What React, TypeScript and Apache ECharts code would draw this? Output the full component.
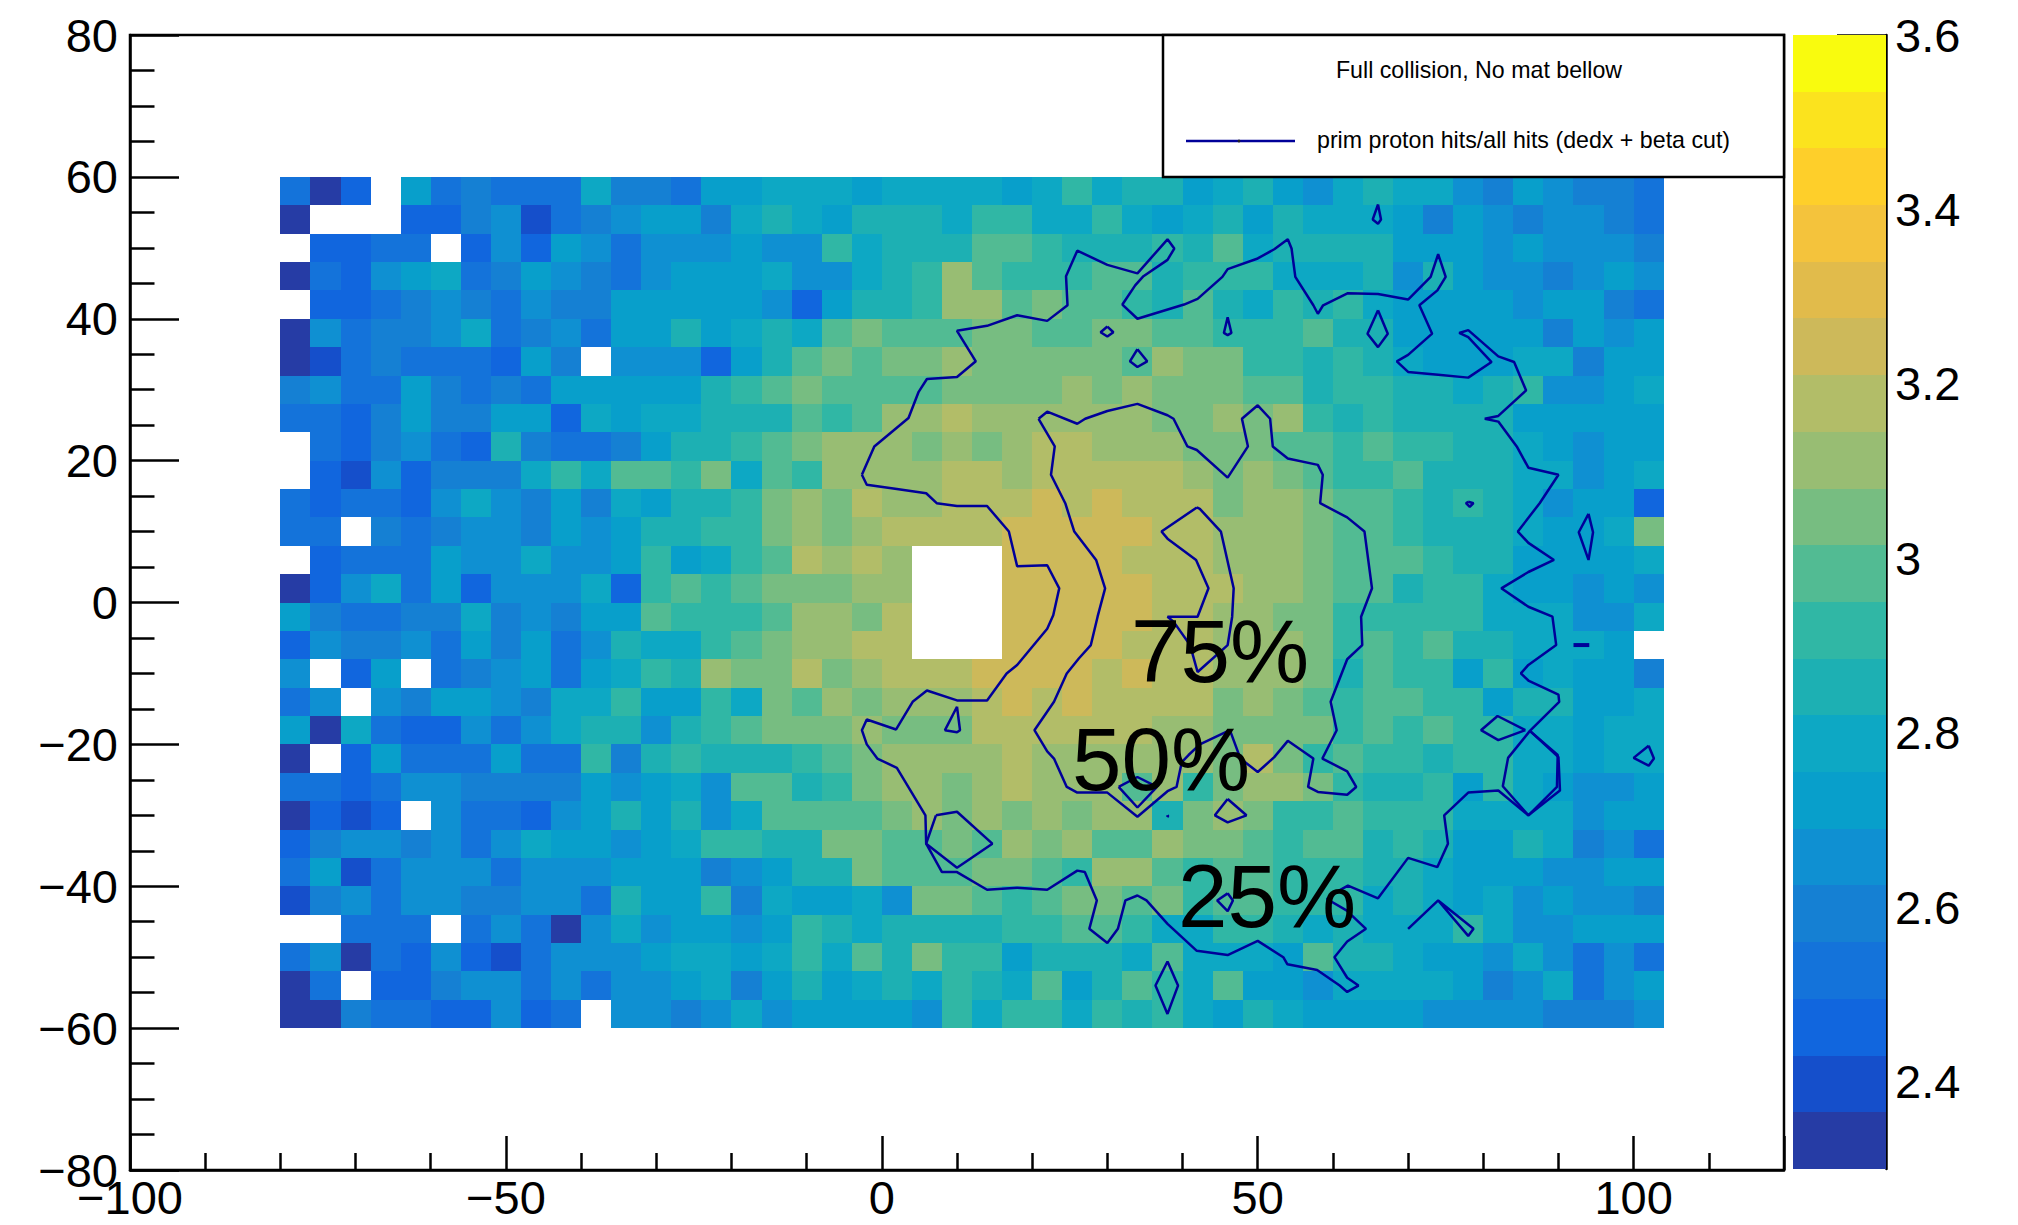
import React, { useEffect, useRef } from "react";
import * as echarts from "echarts";

const FONT = "Liberation Sans";
const Z_MIN = 2.3;
const Z_MAX = 3.6;
const BAND_COUNT = 20;
const Z_STEP = (Z_MAX - Z_MIN) / BAND_COUNT;
const BIN = 4;
const X_START = -80;
const Y_TOP = 60;
const CONTOUR_COLOR = "#000099";

const palette = ["#263CA5", "#154FCB", "#1166DE", "#1473DA", "#1580D3", "#0F90D2", "#089FCB", "#0DA8C4", "#1DB0B3", "#30B7A5", "#52BB93", "#77BD81", "#98BD73", "#B2BD68", "#CDB95A", "#E1BB4B", "#F4C33C", "#FECF2A", "#FBE31E", "#F9FB0E"];

const colorbarTicks = [2.4, 2.6, 2.8, 3, 3.2, 3.4, 3.6];

// colour level of each cell, top row first; -1 is an empty bin
const levelRows: number[][] = [
  [3,0,2,-1,6,3,4,3,3,3,7,4,4,3,6,6,7, 7,7,6,7,7,7,7,6,7,9,7,8,8, 6,7,8,6,5,7,8,7,7,5,4,6,5,4,4,3],
  [0,-1,-1,-1,2,2,4,5,1,3,4,5,6,6,4,7,8, 7,6,8,8,8,7,9,9,7,7,9,7,6, 7,8,6,8,7,7,7,6,4,6,5,4,5,5,4,3],
  [-1,2,2,3,3,-1,2,5,2,6,5,3,5,5,5,6,5, 5,9,7,8,8,8,10,10,9,8,8,8,9, 8,10,7,8,8,8,8,6,6,6,5,6,5,5,5,4],
  [0,3,2,5,6,7,3,4,6,5,4,3,5,6,6,6,7, 5,5,7,8,9,12,10,9,9,9,10,10,8, 9,9,9,7,7,7,8,5,8,6,5,5,4,5,6,5],
  [-1,2,2,3,4,5,4,3,5,4,4,6,6,6,6,6,5, 2,6,8,8,9,12,12,10,11,10,10,9,8, 10,8,7,9,8,9,7,6,6,6,6,5,6,6,4,3],
  [0,5,3,4,4,5,7,3,4,5,3,6,6,8,6,7,8, 7,10,11,10,10,10,11,11,10,10,11,11,10, 10,9,9,9,10,8,8,6,6,6,6,6,4,6,5,6],
  [0,1,3,4,3,3,3,2,6,4,-1,5,5,5,2,6,8, 10,11,10,11,11,12,11,11,11,11,11,10,12, 11,11,9,9,8,9,8,7,6,6,6,7,7,4,6,6],
  [4,5,3,3,6,4,3,4,3,6,6,6,6,6,8,9,10, 11,10,10,10,10,11,11,11,11,12,11,12,11, 11,11,10,10,8,9,9,8,8,7,8,9,5,5,6,7],
  [3,3,2,4,6,4,4,6,6,2,7,6,7,7,8,8,8, 10,9,10,12,12,13,12,12,12,12,12,12,11, 11,12,11,12,9,8,9,8,8,8,8,6,6,6,6,6],
  [-1,3,2,4,5,3,2,8,4,3,3,4,6,8,8,9,10, 11,12,12,12,11,12,11,12,13,13,12,12,12, 11,11,11,10,10,9,10,9,9,8,8,7,6,5,6,6],
  [-1,2,1,5,2,4,4,4,7,9,7,10,10,9,11,7,10, 9,12,12,12,12,13,13,12,13,13,13,13,13, 12,11,12,11,10,9,9,10,8,8,8,7,7,5,6,7],
  [3,2,3,3,2,5,7,5,4,6,4,7,6,8,8,9,11, 12,11,13,12,12,13,13,13,14,13,14,13,13, 13,11,12,12,11,10,10,9,8,9,8,7,5,6,6,2],
  [3,3,-1,4,3,4,5,5,4,6,5,6,8,8,9,9,11, 12,11,12,13,13,13,13,14,14,14,14,14,13, 13,12,12,12,11,10,10,9,8,8,8,7,6,6,7,11],
  [-1,2,3,3,3,6,5,5,7,5,5,6,9,6,7,9,10, 13,12,13,12,-1,-1,-1,14,14,14,14,13,13, 13,12,12,12,11,10,10,10,9,8,8,6,6,6,6,7],
  [0,2,5,7,3,6,2,5,5,5,7,2,9,10,9,10,11, 11,11,12,12,-1,-1,-1,14,14,14,14,14,13, 13,13,12,12,11,10,10,8,9,9,7,6,6,5,6,5],
  [6,4,3,3,4,4,7,4,5,4,6,6,10,9,9,9,10, 12,12,11,13,-1,-1,-1,14,14,14,14,14,13, 13,12,12,11,11,9,9,9,9,9,7,7,7,5,5,7],
  [2,5,4,4,5,3,6,4,6,3,5,8,7,7,9,10,11, 12,12,13,13,-1,-1,-1,14,14,14,14,13,13, 13,12,12,12,11,9,10,9,10,8,8,7,7,7,6,-1],
  [5,-1,2,6,-1,3,4,5,6,3,6,7,9,8,12,11,11, 13,11,12,13,13,13,14,14,14,14,13,14,13, 13,12,12,12,11,8,10,9,9,6,9,6,7,6,6,4],
  [3,5,-1,5,4,6,6,5,4,7,7,9,6,6,9,7,11, 10,12,11,12,12,12,13,14,13,14,13,13,13, 13,11,12,11,10,9,10,10,9,9,6,8,8,6,6,7],
  [6,0,7,3,2,2,5,3,5,7,8,8,5,8,9,10,11, 11,11,12,11,11,11,13,13,13,13,13,13,12, 12,11,11,11,11,9,10,9,10,9,9,7,7,6,7,7],
  [0,-1,2,6,3,3,3,6,3,3,9,4,8,9,8,8,8, 9,10,11,12,12,12,12,13,12,12,12,12,12, 12,11,13,11,9,10,9,9,8,9,9,7,7,6,7,7],
  [3,3,2,3,5,5,4,4,4,4,6,5,6,7,5,10,10, 8,9,11,12,12,11,12,13,12,12,12,10,12, 9,11,12,12,11,9,8,8,9,6,9,7,6,5,5,6],
  [0,2,1,2,-1,5,3,3,2,5,6,8,6,8,5,7,10, 10,10,10,11,12,11,12,11,12,11,12,12,8, 11,12,11,9,9,10,9,9,9,7,7,7,7,5,6,6],
  [2,4,5,5,4,5,3,5,7,6,6,5,6,7,9,9,8, 8,11,11,10,10,11,10,12,11,12,10,10,12, 11,11,10,9,10,10,8,9,8,6,6,8,7,4,5,3],
  [3,6,1,3,5,5,5,3,5,5,5,6,6,6,4,5,6, 8,8,11,10,10,10,11,11,10,9,12,12,10, 9,10,10,9,9,9,8,8,7,6,6,6,5,5,6,6],
  [1,4,5,3,5,5,4,4,5,5,3,8,6,6,9,4,7, 6,6,7,5,11,11,10,9,10,11,11,10,11, 9,10,10,9,9,9,7,8,7,6,7,5,6,5,5,4],
  [-1,-1,3,3,3,-1,3,5,3,0,5,7,5,6,6,5,6, 9,8,7,8,8,8,8,9,9,10,10,9,7, 7,9,9,8,7,8,7,7,7,9,7,5,5,6,6,6],
  [3,5,0,3,2,5,2,1,3,5,5,5,6,7,7,6,7, 9,7,10,8,11,9,9,6,8,8,8,7,10, 7,7,7,6,10,8,8,7,6,6,5,7,5,3,5,3],
  [0,3,-1,2,2,4,5,5,3,5,3,5,5,6,7,4,6, 8,6,7,8,7,9,8,7,10,6,8,10,9, 7,10,6,6,5,7,7,7,7,6,4,5,7,3,5,6],
  [0,0,4,3,3,2,2,5,2,3,-1,5,5,4,5,7,5, 6,6,6,6,5,9,7,9,9,7,9,8,9, 7,6,8,7,6,6,6,6,5,5,5,5,4,4,4,5],
];

type Pt = [number, number];

const contourOuter: Pt[] = [[-2.65,18],[-1,22],[3.55,26],[4.9,29.7],[6,31.5],[10,31.8],[12.5,34],[10,38.3],[14,39],[18,40.5],[22,39.7],[24.7,41.9],[24.5,46],[26,49.6],[30,47.6],[34,46.4],[38,51.2],[38.9,49.9],[38,48.3],[34.8,46],[33.7,44.7],[32,42],[34,40],[40.2,42],[42,42.8],[45.3,45.9],[46,47],[50,48.5],[52.2,49.8],[54,51.2],[54.5,49.9],[55,45.9],[57.4,41.9],[58,40.7],[58.7,41.9],[62,43.6],[66,43.5],[70,42.7],[73,45.9],[74,49.1],[75,45.9],[73.9,44],[71.5,41.9],[73.2,37.9],[70,34.9],[68.5,34],[70,32.5],[74,32.1],[78,31.7],[81.1,33.9],[78,37.4],[76.8,38],[78,38.4],[82,34.7],[84.1,33.9],[85.7,29.9],[82,26.3],[80.2,25.9],[82,25.5],[84.45,22],[86,19],[90,18],[87.5,14],[84.6,10],[86,8.4],[89.4,6],[86,4.3],[82.4,2],[86,-0.6],[89.2,-2],[89.7,-6],[86,-8.8],[85,-10],[86,-11],[90,-13],[90.1,-14],[86.2,-18.1],[90,-21.8],[90.2,-26.5],[86,-30],[82,-26.5],[78,-26.8],[74.8,-30],[75.3,-34],[73.9,-37.3],[70,-36],[66,-41.7],[62,-39.9],[60.5,-40.8],[59.2,-41.8],[61.8,-43.4],[64.4,-46],[61.9,-47.8],[60.2,-50],[61.9,-52.9],[63.4,-54],[61.9,-54.9],[60.9,-54],[57.9,-51.8],[53.95,-51],[53.4,-50],[50,-47.7],[46,-49.7],[41.9,-49.1],[38,-45.3],[35.2,-42],[34,-41.3],[32.4,-42],[31.4,-46],[30,-48],[27.6,-46],[28.6,-42],[27,-38],[26,-37.8],[22,-40.5],[18,-40.2],[14,-40.5],[10,-38],[8,-38],[5.9,-34],[5.8,-30],[2,-23.3],[-0.6,-22],[-2,-20],[-2.65,-18],[-2,-16.5],[1.9,-17.9],[4.1,-14],[6,-12.4],[10,-13.8],[14,-13.8],[16.6,-10],[18,-8.8],[22,-3.7],[22.8,-1.8],[23.6,2],[22,5.25],[18,5.1],[16.9,10],[14,13.6],[10,13.6],[7.3,14],[5.9,15.4],[2,16],[-2,16.6],[-2.65,18]];
const contourMiddle: Pt[] = [[20.85,25.9],[22,26.9],[26,25.2],[27.05,25.9],[30,27],[34,28],[38,26.4],[38.8,25.9],[40.65,22],[41.9,21.5],[46,17.6],[48.7,22],[47.9,25.9],[50,27.8],[51.65,25.9],[52,22],[54,20.3],[58,19.4],[58.65,18],[58.3,14],[61.9,12],[64.2,10],[65.2,2],[63.75,-2],[63.9,-6],[61.9,-8],[59.7,-14],[60.5,-18],[58.6,-22],[61.9,-23.8],[63.1,-26],[61.9,-27.1],[58,-26.7],[56.7,-26],[57.4,-22],[54,-19.5],[52.2,-21.8],[50,-23.9],[47.7,-22],[46.3,-18],[42.3,-20],[40.8,-21.5],[39.9,-22.5],[39.2,-26],[38,-26.6],[34,-30.2],[30,-26.8],[26,-26.8],[24.6,-26],[22.9,-22],[22,-21],[20.3,-18],[22.9,-14],[24.6,-10],[26.2,-7.9],[27.8,-6],[28.7,-2],[29.7,2],[28.5,6],[25.6,10],[24.4,14],[22.5,18],[23,22],[20.85,25.9]];
const contourInner: Pt[] = [[41.9,13.4],[37.2,10],[38,9],[41.8,6],[43.45,2],[42,-2],[38,-2],[38.8,-2.7],[41,-6],[42,-9.8],[46,-6],[46.6,-2],[46.8,2],[45.1,10],[42.3,13.2],[41.9,13.4]];
const islands: Pt[][] = [
  [[30,38.9],[30.8,38.1],[30,37.5],[29.1,38.1],[30,38.9]],
  [[34,35.7],[35.3,34],[34,33.2],[33,34],[34,35.7]],
  [[66,56.1],[66.4,54],[66,53.4],[65.3,54],[66,56.1]],
  [[46,40.2],[46.5,38],[46,37.7],[45.5,38],[46,40.2]],
  [[66,41.2],[67.3,37.9],[66,36],[64.6,37.9],[66,41.2]],
  [[78,14.2],[78.7,14],[78.2,13.5],[77.7,14],[78,14.2]],
  [[94,12.5],[94.6,9.9],[94,6],[92.7,9.9],[94,12.5]],
  [[10,-14.7],[10.4,-18],[10,-18.3],[8.4,-18],[10,-14.7]],
  [[7.2,-30],[10,-29.5],[14.7,-34],[10,-37.4],[5.9,-34],[7.2,-30]],
  [[31.5,-26],[34,-24.6],[36.6,-26],[34,-28.9],[31.5,-26]],
  [[38,-30],[38.1,-30.1],[38,-30.2],[38,-30]],
  [[46,-27.7],[48.5,-30],[46,-31],[44.3,-30],[46,-27.7]],
  [[46,-41],[46.7,-42],[46,-43.5],[44.6,-42],[46,-41]],
  [[92,-6],[94.1,-6]],
  [[102,-20.2],[102.7,-22],[102,-23],[100,-21.9],[102,-20.2]],
  [[70,-46],[74,-42],[78.7,-46],[78,-47],[74,-42]],
  [[38,-50.6],[39.4,-54],[38,-58],[36.4,-54],[38,-50.6]],
  [[86.2,-18.1],[89.9,-21.5],[89.8,-26],[86,-30],[82.6,-25.9],[83.3,-21.9],[86.2,-18.1]],
  [[85.6,-18],[81.9,-16],[79.7,-18],[82,-19.4],[85.6,-18]],
];
const contours: Pt[][] = [contourOuter, contourMiddle, contourInner, ...islands];

const levelOf = (z: number) => Math.min(BAND_COUNT - 1, Math.max(0, Math.floor((z - Z_MIN) / Z_STEP)));
const cellData: number[][] = [];
levelRows.forEach((row, r) => {
  row.forEach((level, c) => {
    if (level >= 0) cellData.push([X_START + c * BIN, Y_TOP - (r + 1) * BIN, Z_MIN + (level + 0.5) * Z_STEP]);
  });
});

const cellItem = (_: any, api: any) => {
  const x = api.value(0);
  const y = api.value(1);
  const a = api.coord([x, y + BIN]);
  const b = api.coord([x + BIN, y]);
  const left = Math.round(a[0]);
  const top = Math.round(a[1]);
  const fill = palette[levelOf(api.value(2))];
  return {
    type: "rect",
    shape: { x: left, y: top, width: Math.round(b[0]) - left, height: Math.round(b[1]) - top },
    style: { fill },
  };
};

const bandItem = (_: any, api: any) => {
  const i = api.value(0);
  const a = api.coord([0, Z_MIN + (i + 1) * Z_STEP]);
  const b = api.coord([1, Z_MIN + i * Z_STEP]);
  const left = Math.round(a[0]);
  const top = Math.round(a[1]);
  return {
    type: "rect",
    shape: { x: left, y: top, width: Math.round(b[0]) - left, height: Math.round(b[1]) - top },
    style: { fill: palette[i] },
  };
};

const minus = (v: number) => String(v).replace("-", "\u2212");
const blackLine = { color: "#000", width: 2.5 };

const bigText = (text: string, x: number, y: number) => ({
  type: "text",
  z: 200,
  x,
  y,
  style: { text, fill: "#000", font: `89px "${FONT}"`, textAlign: "left", textVerticalAlign: "middle" },
});

export default function App() {
  const ref = useRef<HTMLDivElement>(null);
  useEffect(() => {
    const chart = echarts.init(ref.current!, undefined, { renderer: "svg" });
    chart.setOption({
      animation: false,
      backgroundColor: "#fff",
      textStyle: { fontFamily: FONT },
      grid: [
        { left: 130, top: 35, width: 1654, height: 1135, show: true, borderColor: "#000", borderWidth: 2.5, backgroundColor: "transparent" },
        { left: 1793, top: 35, width: 93, height: 1134, show: false },
      ],
      xAxis: [
        {
          type: "value", gridIndex: 0, min: -100, max: 120, interval: 50, position: "bottom",
          splitLine: { show: false },
          axisLine: { show: true, onZero: false, lineStyle: blackLine },
          axisTick: { show: true, inside: true, length: 34, lineStyle: blackLine },
          minorTick: { show: true, splitNumber: 5, length: 17, lineStyle: blackLine },
          axisLabel: { show: true, showMaxLabel: false, margin: 4, fontSize: 47, color: "#000", fontFamily: FONT, formatter: minus },
        },
        { type: "value", gridIndex: 1, min: 0, max: 1, show: false },
      ],
      yAxis: [
        {
          type: "value", gridIndex: 0, min: -80, max: 80, interval: 20, position: "left",
          splitLine: { show: false },
          axisLine: { show: true, onZero: false, lineStyle: blackLine },
          axisTick: { show: true, inside: true, length: 49, lineStyle: blackLine },
          minorTick: { show: true, splitNumber: 4, length: 24.5, lineStyle: blackLine },
          axisLabel: { show: true, margin: 12, fontSize: 47, color: "#000", fontFamily: FONT, formatter: minus },
        },
        {
          type: "value", gridIndex: 1, min: Z_MIN, max: Z_MAX, position: "right",
          splitLine: { show: false },
          axisLine: { show: true, onZero: false, lineStyle: blackLine },
          axisTick: { show: true, inside: true, length: 49, lineStyle: blackLine, customValues: colorbarTicks },
          axisLabel: { show: true, margin: 9, fontSize: 47, color: "#000", fontFamily: FONT, customValues: colorbarTicks, formatter: (v: number) => String(v) },
        },
      ],
      series: [
        { type: "custom", xAxisIndex: 0, yAxisIndex: 0, renderItem: cellItem, data: cellData, encode: { x: 0, y: 1 }, silent: true, z: 1 },
        { type: "custom", xAxisIndex: 1, yAxisIndex: 1, renderItem: bandItem, data: palette.map((_, i) => [i]), encode: { y: 0 }, silent: true, z: 1 },
        ...contours.map((pts) => ({
          type: "line", xAxisIndex: 0, yAxisIndex: 0, data: pts, showSymbol: false, symbol: "none", silent: true, z: 5,
          lineStyle: { color: CONTOUR_COLOR, width: pts.length === 2 ? 4 : 2.5 },
        })),
      ],
      graphic: [
        { type: "rect", z: 100, shape: { x: 1163, y: 35, width: 621, height: 142 }, style: { fill: "#fff", stroke: "#000", lineWidth: 2.5 } },
        { type: "text", z: 101, x: 1479, y: 70, style: { text: "Full collision, No mat bellow", fill: "#000", font: `23.2px "${FONT}"`, textAlign: "center", textVerticalAlign: "middle" } },
        { type: "line", z: 101, shape: { x1: 1186, y1: 141, x2: 1295, y2: 141 }, style: { stroke: CONTOUR_COLOR, lineWidth: 2.5 } },
        { type: "circle", z: 102, shape: { cx: 1239, cy: 141, r: 1.4 }, style: { fill: "#222" } },
        { type: "text", z: 101, x: 1317, y: 140, style: { text: "prim proton hits/all hits (dedx + beta cut)", fill: "#000", font: `23.2px "${FONT}"`, textAlign: "left", textVerticalAlign: "middle" } },
        bigText("75%", 1131, 651),
        bigText("50%", 1072, 759),
        bigText("25%", 1178, 896),
      ],
    });
    return () => chart.dispose();
  }, []);
  return <div ref={ref} style={{ position: "fixed", left: 0, top: 0, width: 2018, height: 1225, background: "#fff" }} />;
}
